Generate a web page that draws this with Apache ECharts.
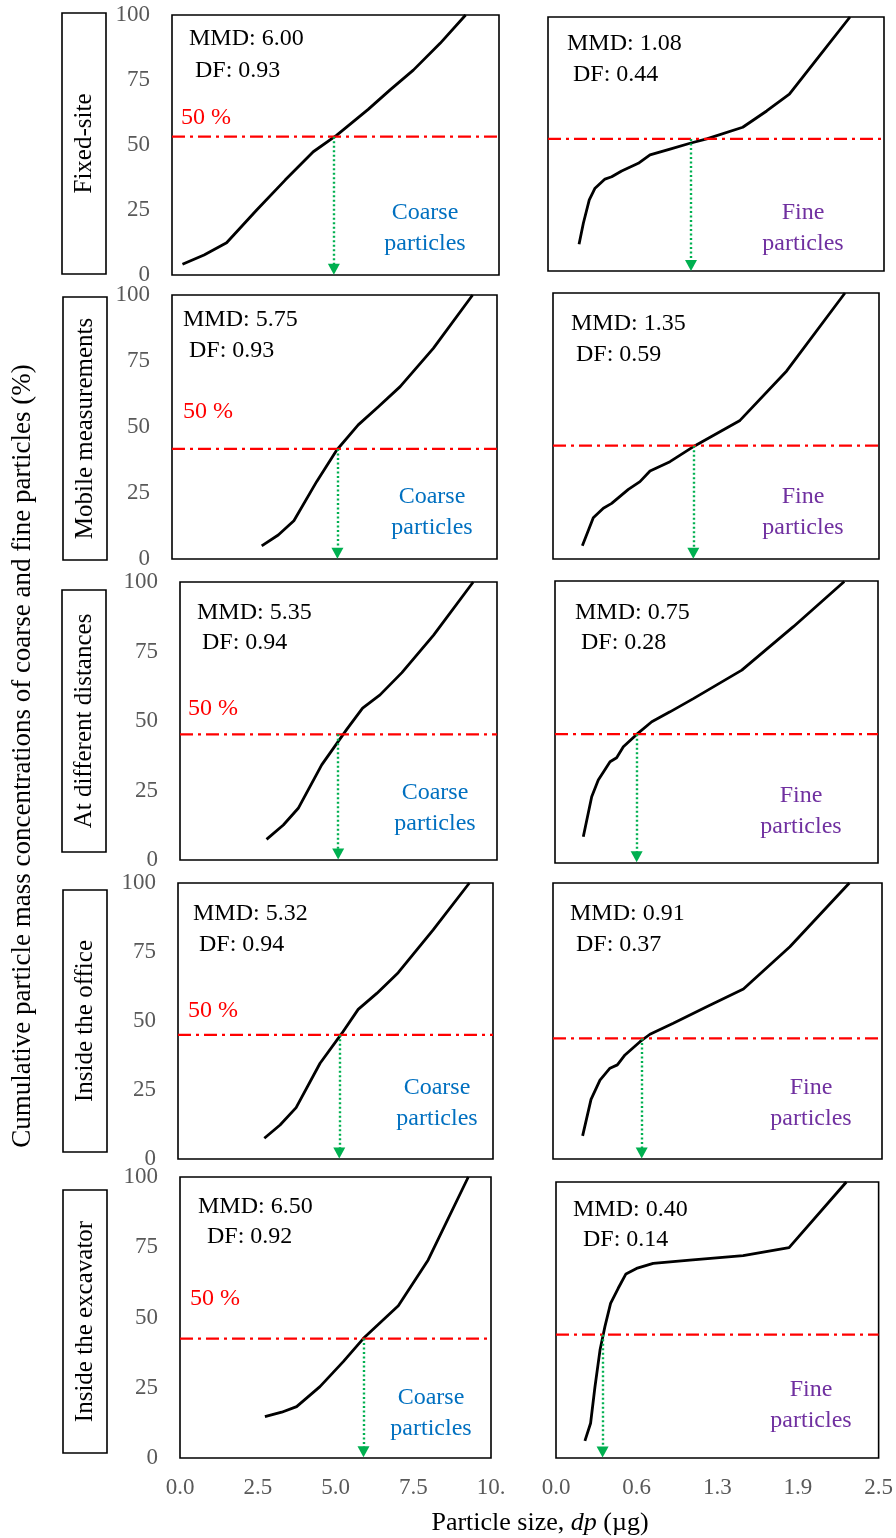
<!DOCTYPE html>
<html>
<head>
<meta charset="utf-8">
<script src="https://cdn.jsdelivr.net/npm/echarts@6/dist/echarts.min.js"></script>
<style>
html,body{margin:0;padding:0;background:#fff;}
#chart{width:896px;height:1538px;}
</style>
</head>
<body>
<div id="chart"></div>
<script>
// ---------------- DATA ----------------
const rowNames = ['Fixed-site', 'Mobile measurements', 'At different distances', 'Inside the office', 'Inside the excavator'];

const yTickLabels = ['0', '25', '50', '75', '100'];
const coarseTickLabels = ['0.0', '2.5', '5.0', '7.5', '10.'];
const fineTickLabels = ['0.0', '0.6', '1.3', '1.9', '2.5'];

// cumulative curves [particle size, cumulative %]
const coarseFixedSite = [[0.32,4.1],[0.98,7.7],[1.67,12.4],[2.59,25],[3.46,36.5],[4.32,47.4],[5.04,53.8],[6.0,63.7],[6.67,71.2],[7.38,78.8],[8.2,89.1],[8.98,100]];
const fineFixedSite = [[0.231,10.5],[0.263,18.8],[0.307,28],[0.35,32.6],[0.424,36.2],[0.474,37.1],[0.548,39.4],[0.672,42.4],[0.759,45.7],[0.908,48],[1.057,50.3],[1.181,52],[1.449,56.6],[1.627,63],[1.796,69.6],[2.024,85],[2.247,100]];
const coarseMobile = [[2.76,5.0],[3.27,9.1],[3.75,14.5],[4.45,29.3],[5.07,41.3],[5.73,50.8],[6.35,57.7],[7.02,65.3],[8.04,79.8],[9.25,100]];
const fineMobile = [[0.225,5.0],[0.309,15.5],[0.386,19.1],[0.45,20.9],[0.578,26.2],[0.667,29.1],[0.744,33.1],[0.897,36.6],[1.089,42.6],[1.434,52.1],[1.792,70.7],[2.239,100]];
const coarseDistances = [[2.73,7.4],[3.26,12.6],[3.73,18.6],[4.47,34.2],[5.26,47.0],[5.76,54.6],[6.31,59.4],[7.0,67.4],[8.0,80.9],[9.25,100]];
const fineDistances = [[0.219,9.3],[0.284,23.5],[0.335,29.4],[0.426,35.9],[0.477,37.3],[0.529,41.2],[0.632,45.6],[0.749,50.1],[0.89,53.6],[1.071,58.3],[1.446,68.4],[1.845,83.8],[2.239,99.8]];
const coarseOffice = [[2.74,7.5],[3.24,12.3],[3.75,18.6],[4.51,34.7],[5.2,45.5],[5.72,54.2],[6.31,60.0],[6.99,67.5],[8.1,83],[9.25,100]];
const fineOffice = [[0.225,8.4],[0.289,21.6],[0.357,28.6],[0.433,32.9],[0.489,34.1],[0.547,37.7],[0.661,42.5],[0.737,45.2],[0.914,49.2],[1.168,55.2],[1.447,61.6],[1.80,76.9],[2.252,100]];
const coarseExcavator = [[2.73,14.7],[3.27,16.3],[3.75,18.3],[4.5,25.4],[5.25,34.3],[5.9,42.6],[7.02,54.2],[7.98,70.5],[9.27,100]];
const fineExcavator = [[0.224,6.2],[0.268,12.6],[0.302,25.8],[0.341,39.1],[0.379,47.6],[0.423,56.0],[0.482,61.5],[0.542,66.7],[0.624,68.7],[0.753,70.5],[1.037,71.7],[1.45,73.3],[1.806,76.2],[2.25,100]];

const coarseMMD = ['6.00', '5.75', '5.35', '5.32', '6.50'];
const coarseDF = ['0.93', '0.93', '0.94', '0.94', '0.92'];
const fineMMD = ['1.08', '1.35', '0.75', '0.91', '0.40'];
const fineDF = ['0.44', '0.59', '0.28', '0.37', '0.14'];

// where the drawn "50 %" reference line sits on each panel's axis, and the arrow position
const coarseRefLevel = [53.2, 41.7, 45.2, 45.0, 42.5];
const fineRefLevel = [52.0, 42.6, 45.7, 43.7, 44.7];
const coarseArrowX = [4.95, 5.09, 4.99, 5.12, 5.90];
const fineArrowX = [1.064, 1.076, 0.632, 0.674, 0.361];

// ---------------- LAYOUT ----------------
const coarseBoxes = [[172,15,327,260],[172,295,325,264],[180,582,317,278],[178,883,315,276],[180,1177,311,281]];
const fineBoxes = [[548,17,336,254],[553,293,326,266],[555,581,323,282],[553,883,329,276],[556,1182,323,276]];
const rowBoxes = [[62,13,44,261],[63,297,44,263],[62,590,44,262],[63,890,44,262],[63,1190,44,263]];
const coarseMMDPos = [[189,39],[183,320],[197,613],[193,914],[198,1207]];
const coarseDFPos = [[195,71],[189,351],[202,643],[199,945],[207,1237]];
const pct50Pos = [[181,118],[183,412],[188,709],[188,1011],[190,1299]];
const coarseNamePos = [[425,213],[432,497],[435,793],[437,1088],[431,1398]];
const fineMMDPos = [[567,44],[571,324],[575,613],[570,914],[573,1210]];
const fineDFPos = [[573,75],[576,355],[581,643],[576,945],[583,1240]];
const fineNamePos = [[803,213],[803,497],[801,796],[811,1088],[811,1390]];

const FONT = '"Liberation Serif","Times New Roman",Times,serif';
const coarseSeriesData = [coarseFixedSite, coarseMobile, coarseDistances, coarseOffice, coarseExcavator];
const fineSeriesData = [fineFixedSite, fineMobile, fineDistances, fineOffice, fineExcavator];

const grids = [], xAxes = [], yAxes = [], series = [], graphics = [];

function addPanel(idx, box, kind, r) {
  const isCoarse = kind === 'coarse';
  const xmax = isCoarse ? 10 : 2.5;
  const xint = isCoarse ? 2.5 : 0.625;
  const xLabels = isCoarse ? coarseTickLabels : fineTickLabels;
  grids.push({left: box[0], top: box[1], width: box[2], height: box[3], show: true,
    borderColor: '#000', borderWidth: 1.6, backgroundColor: 'transparent', containLabel: false});
  xAxes.push({type: 'value', gridIndex: idx, min: 0, max: xmax, interval: xint,
    axisLine: {show: false}, axisTick: {show: false}, splitLine: {show: false},
    axisLabel: {show: r === 4, margin: 18, color: '#595959', fontFamily: FONT, fontSize: 23,
      formatter: v => xLabels[Math.round(v / xint)]}});
  yAxes.push({type: 'value', gridIndex: idx, min: 0, max: 100, interval: 25,
    axisLine: {show: false}, axisTick: {show: false}, splitLine: {show: false},
    axisLabel: {show: isCoarse, margin: 22, color: '#595959', fontFamily: FONT, fontSize: 23,
      formatter: v => yTickLabels[Math.round(v / 25)]}});
  const level = isCoarse ? coarseRefLevel[r] : fineRefLevel[r];
  const ax = isCoarse ? coarseArrowX[r] : fineArrowX[r];
  series.push({type: 'line', xAxisIndex: idx, yAxisIndex: idx,
    data: isCoarse ? coarseSeriesData[r] : fineSeriesData[r],
    showSymbol: false, symbol: 'none', lineStyle: {color: '#000', width: 2.8}, z: 3,
    markLine: {silent: true, animation: false, symbol: ['none', 'triangle'], symbolSize: [12, 11],
      label: {show: false}, lineStyle: {color: '#00B050', width: 2.4, type: [2, 2.5]},
      emphasis: {disabled: true},
      data: [[{coord: [ax, level]}, {coord: [ax, 2.2]}]]}});
  series.push({type: 'line', xAxisIndex: idx, yAxisIndex: idx,
    data: [[0, level], [xmax, level]], showSymbol: false, symbol: 'none',
    lineStyle: {color: '#FF0000', width: 2.2, type: [13, 5, 3, 5]}, z: 4});
}

for (let r = 0; r < 5; r++) {
  addPanel(2 * r, coarseBoxes[r], 'coarse', r);
  addPanel(2 * r + 1, fineBoxes[r], 'fine', r);
}

function txt(x, y, text, size, color, align) {
  graphics.push({type: 'text', x: x, y: y, silent: true,
    style: {text: text, fontFamily: FONT, fontSize: size, fill: color, align: align || 'left', verticalAlign: 'middle'}});
}

for (let r = 0; r < 5; r++) {
  const rb = rowBoxes[r];
  graphics.push({type: 'rect', silent: true, shape: {x: rb[0], y: rb[1], width: rb[2], height: rb[3]},
    style: {fill: '#fff', stroke: '#000', lineWidth: 1.6}});
  graphics.push({type: 'text', silent: true, x: rb[0] + rb[2] / 2, y: rb[1] + rb[3] / 2, rotation: Math.PI / 2,
    style: {text: rowNames[r], fontFamily: FONT, fontSize: 25, fill: '#000', align: 'center', verticalAlign: 'middle'}});
  txt(coarseMMDPos[r][0], coarseMMDPos[r][1], 'MMD: ' + coarseMMD[r], 24, '#000');
  txt(coarseDFPos[r][0], coarseDFPos[r][1], 'DF: ' + coarseDF[r], 24, '#000');
  txt(pct50Pos[r][0], pct50Pos[r][1], '50 %', 24, '#FF0000');
  txt(coarseNamePos[r][0], coarseNamePos[r][1], 'Coarse', 24, '#0070C0', 'center');
  txt(coarseNamePos[r][0], coarseNamePos[r][1] + 31, 'particles', 24, '#0070C0', 'center');
  txt(fineMMDPos[r][0], fineMMDPos[r][1], 'MMD: ' + fineMMD[r], 24, '#000');
  txt(fineDFPos[r][0], fineDFPos[r][1], 'DF: ' + fineDF[r], 24, '#000');
  txt(fineNamePos[r][0], fineNamePos[r][1], 'Fine', 24, '#7030A0', 'center');
  txt(fineNamePos[r][0], fineNamePos[r][1] + 31, 'particles', 24, '#7030A0', 'center');
}

// axis titles
graphics.push({type: 'text', silent: true, x: 23, y: 756, rotation: Math.PI / 2,
  style: {text: 'Cumulative particle mass concentrations of coarse and fine particles (%)',
    fontFamily: FONT, fontSize: 27, fill: '#000', align: 'center', verticalAlign: 'middle'}});
graphics.push({type: 'text', silent: true, x: 540, y: 1523,
  style: {text: '{a|Particle size, }{b|dp}{a| (µg)}', fontFamily: FONT, fontSize: 26, fill: '#000',
    align: 'center', verticalAlign: 'middle',
    rich: {a: {fontFamily: FONT, fontSize: 26, fill: '#000'}, b: {fontFamily: FONT, fontSize: 26, fontStyle: 'italic', fill: '#000'}}}});

const chart = echarts.init(document.getElementById('chart'), null, {renderer: 'canvas'});
chart.setOption({
  animation: false,
  backgroundColor: '#fff',
  grid: grids, xAxis: xAxes, yAxis: yAxes, series: series,
  graphic: {elements: graphics}
});
</script>
</body>
</html>
